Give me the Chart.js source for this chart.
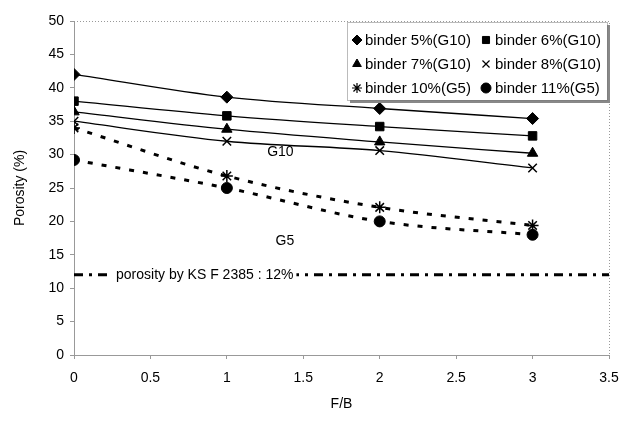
<!DOCTYPE html>
<html><head><meta charset="utf-8">
<script src="https://cdn.jsdelivr.net/npm/chart.js@4/dist/chart.umd.min.js"></script>
<style>html,body{margin:0;padding:0;background:#fff}#w{width:638px;height:421px}</style>
</head><body><div id="w"><canvas id="c" width="638" height="421"></canvas></div>
<script>
const fbRatio = [0, 1, 2, 3];
const binder5 = [42, 38.6, 36.9, 35.4];
const binder6 = [38, 35.8, 34.2, 32.8];
const binder7 = [36.4, 33.8, 31.9, 30.2];
const binder8 = [35, 32, 30.6, 28];
const binder10 = [34, 26.8, 22.1, 19.4];
const binder11 = [29.2, 25, 20, 18];
const seriesNames = ['binder 5%(G10)', 'binder 6%(G10)', 'binder 7%(G10)', 'binder 8%(G10)', 'binder 10%(G5)', 'binder 11%(G5)'];
const limitValue = 12;
const limitRange = [0, 3.5];
const limitLabel = 'porosity by KS F 2385 : 12%';
const groupLabels = [{text: 'G10', x: 1.35, y: 30.3}, {text: 'G5', x: 1.38, y: 17.0}];

const FONT = '"Liberation Sans", Arial, sans-serif';
const styles = [
  {ps: 'rectRot', r: 6, solid: true},
  {ps: 'rect', r: 6, solid: true},
  {ps: 'triangle', r: 6, solid: true},
  {ps: 'crossRot', r: 6, solid: true},
  {ps: 'star', r: 6, solid: false},
  {ps: 'circle', r: 5.5, solid: false}
];
const vals = [binder5, binder6, binder7, binder8, binder10, binder11];
const datasets = vals.map((v, i) => ({
  label: seriesNames[i],
  data: fbRatio.map((x, j) => ({x: x, y: v[j]})),
  borderColor: '#000',
  backgroundColor: '#000',
  borderWidth: styles[i].solid ? 1.3 : 3,
  borderDash: styles[i].solid ? [] : [5, 9],
  pointStyle: styles[i].ps,
  pointRadius: styles[i].r,
  pointBorderWidth: (styles[i].ps === 'crossRot' || styles[i].ps === 'star') ? 1.5 : 1,
  tension: 0.2,
  cubicInterpolationMode: 'monotone',
  order: 2
}));
datasets.push({
  label: 'limit',
  data: limitRange.map(x => ({x: x, y: limitValue})),
  borderColor: '#000',
  borderWidth: 3,
  borderDash: [9, 6, 3, 6],
  pointRadius: 0,
  order: 3
});

const deco = {
  id: 'deco',
  afterDatasetsDraw(chart) {
    const ctx = chart.ctx, xs = chart.scales.x, ys = chart.scales.y, a = chart.chartArea;
    ctx.save();
    ctx.strokeStyle = '#999'; ctx.lineWidth = 1; ctx.setLineDash([1, 2]);
    ctx.beginPath();
    ctx.moveTo(a.left, a.top + 0.5); ctx.lineTo(a.right + 0.5, a.top + 0.5); ctx.lineTo(a.right + 0.5, a.bottom);
    ctx.stroke();
    ctx.setLineDash([]);
    ctx.font = '14px ' + FONT;
    ctx.textBaseline = 'middle';
    const ly = ys.getPixelForValue(limitValue);
    const tw = ctx.measureText(limitLabel).width;
    const lx = 116;
    ctx.fillStyle = '#fff';
    ctx.fillRect(lx - 3, ly - 8, tw + 6, 16);
    ctx.fillStyle = '#000';
    ctx.textAlign = 'left';
    ctx.fillText(limitLabel, lx, ly);
    ctx.textAlign = 'center';
    groupLabels.forEach(g => ctx.fillText(g.text, xs.getPixelForValue(g.x), ys.getPixelForValue(g.y)));
    const L = 347, T = 22, W = 260, H = 78;
    ctx.fillStyle = '#888';
    ctx.fillRect(L + 3, T + 3, W, H);
    ctx.fillStyle = '#fff';
    ctx.fillRect(L, T, W, H);
    ctx.strokeStyle = '#777'; ctx.lineWidth = 1; ctx.setLineDash([1, 1]);
    ctx.strokeRect(L + 0.5, T + 0.5, W, H);
    ctx.setLineDash([]);
    ctx.font = '15px ' + FONT;
    ctx.textAlign = 'left';
    const rows = [40, 64, 88], colM = [357, 486], colT = [365, 495];
    seriesNames.forEach((n, i) => {
      const r = Math.floor(i / 2), c = i % 2;
      ctx.fillStyle = '#000'; ctx.strokeStyle = '#000';
      ctx.lineWidth = (styles[i].ps === 'crossRot' || styles[i].ps === 'star') ? 1.2 : 1;
      Chart.helpers.drawPoint(ctx, {pointStyle: styles[i].ps, radius: 5, rotation: 0, borderWidth: ctx.lineWidth}, colM[c], rows[r]);
      ctx.fillStyle = '#000';
      ctx.fillText(n, colT[c], rows[r] + 1);
    });
    ctx.restore();
  }
};

new Chart(document.getElementById('c'), {
  type: 'line',
  data: {datasets: datasets},
  plugins: [deco],
  options: {
    responsive: false,
    animation: false,
    layout: {padding: {top: 21, right: 29, left: 8, bottom: 4}},
    plugins: {legend: {display: false}, tooltip: {enabled: false}},
    scales: {
      x: {
        type: 'linear', min: 0, max: 3.5,
        ticks: {stepSize: 0.5, color: '#000', font: {family: FONT, size: 14}, padding: 11,
          callback: v => String(Math.round(v * 10) / 10)},
        grid: {display: true, drawOnChartArea: false, tickLength: 4, color: '#999'},
        border: {color: '#999', width: 1},
        title: {display: true, text: 'F/B', color: '#000', font: {family: FONT, size: 14}, padding: {top: 6}},
        afterFit(s) { s.height = 62; }
      },
      y: {
        min: 0, max: 50,
        ticks: {stepSize: 5, color: '#000', font: {family: FONT, size: 14}, padding: 6},
        grid: {display: true, drawOnChartArea: false, tickLength: 4, color: '#999'},
        border: {color: '#999', width: 1},
        title: {display: true, text: 'Porosity (%)', color: '#000', font: {family: FONT, size: 14}, padding: {bottom: 4}},
        afterFit(s) { s.width = 66; }
      }
    }
  }
});
</script></body></html>
